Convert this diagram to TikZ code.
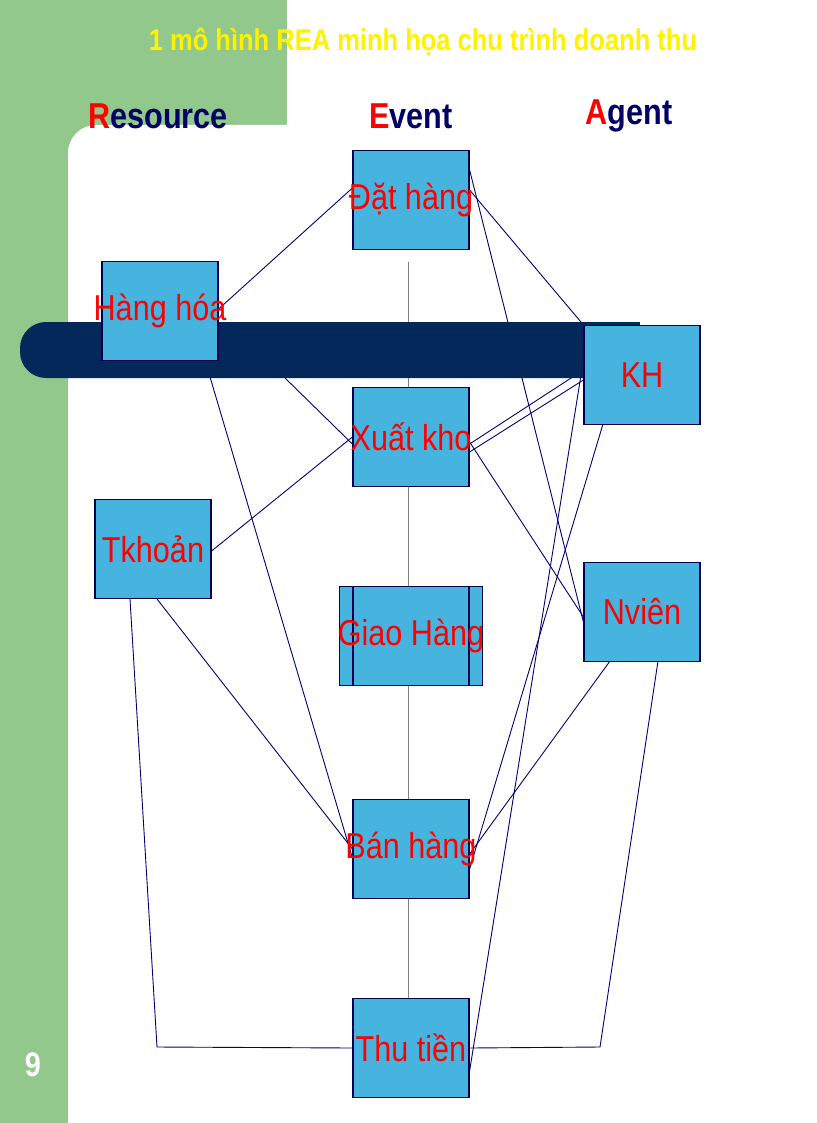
\documentclass[tikz,border=0pt]{standalone}
\usepackage{fontspec}
\setmainfont{Liberation Sans}
\begin{document}
\begin{tikzpicture}[x=1pt,y=-1pt,
  box/.style={draw=black!70!blue,line width=1.2pt,fill=cyan!75!teal!80!white,minimum width=116pt,minimum height=99pt,inner sep=0pt,font=\fontsize{36}{40}\selectfont,text=red,xscale=1},
  ln/.style={draw=blue!45!black,line width=0.9pt},
  hd/.style={font=\bfseries\fontsize{36}{40}\selectfont,text=blue!40!black}]
\definecolor{gr}{RGB}{146,200,140}
\definecolor{navy}{RGB}{5,40,90}
\useasboundingbox (0,0) rectangle (816,1123);
\fill[white] (0,0) rectangle (816,1123);
\fill[gr] (0,0) rectangle (287,150);
\fill[gr] (0,0) rectangle (68,1123);
\fill[white,rounded corners=28pt] (68,125) rectangle (900,1200);
\node[font=\bfseries\fontsize{30}{34}\selectfont,text=yellow,xscale=0.85] (t) at (423,42) {1 mô hình REA minh họa chu trình doanh thu};
\node[hd,xscale=0.85] (r) at (158,116) {\textcolor{red}{R}esource};
\node[hd,xscale=0.85] (e) at (411,116) {\textcolor{red}{E}vent};
\node[hd,xscale=0.85] (a) at (629,116) {\textcolor{red}{A}gent};
\coordinate (vt) at (408,262);
\coordinate (vb) at (408,998);
\draw[gray,line width=0.8pt] (vt) -- (vb);
% nodes (placed first for coordinates)
\node[box] (dh) at (411,200) {};
\node[box] (hh) at (160,311) {};
\node[box] (kh) at (642,375) {};
\node[box] (xk) at (411,437) {};
\node[box] (tk) at (153,549) {};
\node[box,minimum width=143pt] (gh) at (411,636) {};
\node[box] (nv) at (642,612) {};
\node[box] (bh) at (411,849) {};
\node[box] (tt) at (411,1048) {};
\draw[ln] (hh.east) ++(0,-2) -- ([yshift=12]dh.west);
\draw[ln] ([yshift=10]dh.east) -- (kh.north west);
\draw[ln] ([yshift=30]dh.east) -- ([yshift=-10]nv.west);
\draw[ln] (285,378) -- ([yshift=-7]xk.west);
\draw[ln] ([yshift=-15]xk.east) -- ([yshift=-5]kh.west);
\draw[ln] ([yshift=-7]xk.east) -- ([yshift=5]kh.west);
\draw[ln] ([yshift=-5]xk.east) -- ([yshift=-5]nv.west);
\draw[ln] ([yshift=-2]tk.east) -- (xk.west);
\draw[ln] (205,360) -- ([yshift=-9]bh.west);
\draw[ln] (157,599) -- (bh.west);
\draw[ln] ([yshift=-20]bh.east) -- (603,424);
\draw[ln] ([yshift=-5]bh.east) -- (610,661);
\draw[ln] ([yshift=-23]tt.east) -- ([yshift=15]kh.west);
\draw[ln] (130,599) -- (157,1047) -- (tt.west);
\draw[ln] (658,661) -- (600,1047) -- (tt.east);
\fill[navy,rounded corners=26pt] (20,322) rectangle (640,378);
\fill[navy] (600,322) rectangle (640,378);
\foreach \n/\t in {dh/Đặt hàng,hh/Hàng hóa,kh/KH,xk/Xuất kho,tk/Tkhoản,gh/Giao Hàng,nv/Nviên,bh/Bán hàng,tt/Thu tiền}{
  \node[box] at (\n) {};
  \node[font=\fontsize{36}{40}\selectfont,text=red,xscale=0.85] at (\n) {\t};
}
\node[font=\bfseries\fontsize{34}{38}\selectfont,text=white,xscale=0.85] (num) at (33,1065) {9};
\end{tikzpicture}
\end{document}
